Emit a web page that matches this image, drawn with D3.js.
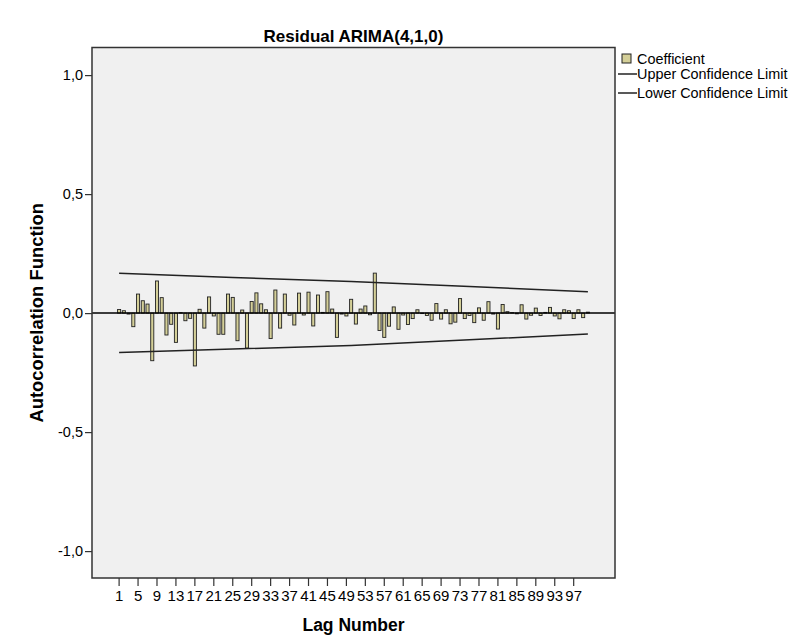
<!DOCTYPE html>
<html>
<head>
<meta charset="utf-8">
<script src="https://cdn.jsdelivr.net/npm/d3@7"></script>
<style>
  body { margin: 0; background: #ffffff; }
  svg { display: block; }
  text { font-family: "Liberation Sans", Arial, sans-serif; fill: #000; }
</style>
</head>
<body>
<svg id="chart" width="798" height="639"></svg>
<script>
// Residual ACF coefficients, lags 1..100
const acf = [
   0.015,  0.010, -0.004, -0.057,  0.080,  0.052,  0.038, -0.200,  0.135,  0.065,
  -0.092, -0.047, -0.123,  0.002, -0.032, -0.022, -0.222,  0.016, -0.063,  0.068,
  -0.012, -0.089, -0.089,  0.080,  0.066, -0.116,  0.013, -0.147,  0.049,  0.085,
   0.039,  0.014, -0.107,  0.097, -0.063,  0.080, -0.009, -0.050,  0.084, -0.008,
   0.088, -0.054,  0.076,  0.003,  0.090,  0.017, -0.102, -0.004, -0.012,  0.058,
  -0.046,  0.017,  0.030, -0.007,  0.168, -0.073, -0.102, -0.055,  0.026, -0.068,
  -0.008, -0.048, -0.023,  0.014, -0.002, -0.010, -0.030,  0.040, -0.025,  0.014,
  -0.045, -0.038,  0.061, -0.023, -0.010, -0.040,  0.022, -0.030,  0.048, -0.004,
  -0.067,  0.036,  0.006,  0.002, -0.003,  0.035, -0.025, -0.009,  0.021, -0.010,
   0.003,  0.024, -0.012, -0.024,  0.014,  0.010, -0.023,  0.014, -0.019,  0.004
];
const lags = acf.map((_, i) => i + 1);

// Confidence limits read at selected lags
const ciLags  = [1, 25, 50, 75, 100];
const ciUpper = [0.167, 0.150, 0.133, 0.112, 0.090];
const ciLower = [-0.165, -0.151, -0.136, -0.112, -0.088];

const lagTicks = [1, 5, 9, 13, 17, 21, 25, 29, 33, 37, 41, 45, 49, 53, 57, 61, 65, 69, 73, 77, 81, 85, 89, 93, 97];
const yTicks = [-1.0, -0.5, 0.0, 0.5, 1.0];

const titleText = "Residual ARIMA(4,1,0)";
const xTitle = "Lag Number";
const yTitle = "Autocorrelation Function";
const legendItems = ["Coefficient", "Upper Confidence Limit", "Lower Confidence Limit"];

const plot = { left: 92, right: 615, top: 47.5, bottom: 578 };
const barFill = "#d4cf98";
const ink = "#222";

const svg = d3.select("#chart");

const x = d3.scaleBand()
  .domain(lags)
  .range([plot.left, plot.right])
  .paddingInner(0.35)
  .paddingOuter(5.4);

const y = d3.scaleLinear()
  .domain([-1.113, 1.116])
  .range([plot.bottom, plot.top]);

const cx = d => x(d) + x.bandwidth() / 2;

// plot background
svg.append("rect")
  .attr("x", plot.left).attr("y", plot.top)
  .attr("width", plot.right - plot.left).attr("height", plot.bottom - plot.top)
  .attr("fill", "#f0f0f0");

// bars
svg.append("g").selectAll("rect")
  .data(lags)
  .join("rect")
  .attr("x", d => x(d))
  .attr("width", x.bandwidth())
  .attr("y", d => y(Math.max(0, acf[d - 1])))
  .attr("height", d => Math.abs(y(acf[d - 1]) - y(0)))
  .attr("fill", barFill)
  .attr("stroke", ink)
  .attr("stroke-width", 0.9);

// zero reference line
svg.append("line")
  .attr("x1", plot.left).attr("x2", plot.right)
  .attr("y1", y(0)).attr("y2", y(0))
  .attr("stroke", "#000").attr("stroke-width", 1.5);

// confidence limits
const ciLine = d3.line().x(d => cx(d[0])).y(d => y(d[1]));
[ciUpper, ciLower].forEach(vals => {
  svg.append("path")
    .attr("d", ciLine(ciLags.map((l, i) => [l, vals[i]])))
    .attr("fill", "none")
    .attr("stroke", ink)
    .attr("stroke-width", 1.5);
});

// frame
svg.append("rect")
  .attr("x", plot.left).attr("y", plot.top)
  .attr("width", plot.right - plot.left).attr("height", plot.bottom - plot.top)
  .attr("fill", "none").attr("stroke", "#333").attr("stroke-width", 1.5);

// axes
const fmt = v => d3.format(".1f")(v).replace(".", ",").replace("−", "-");

const yAxis = svg.append("g")
  .attr("transform", `translate(${plot.left},0)`)
  .call(d3.axisLeft(y).tickValues(yTicks).tickFormat(fmt).tickSize(7).tickPadding(2));
yAxis.select(".domain").remove();
yAxis.selectAll("line").attr("stroke", "#333").attr("stroke-width", 1.2);
yAxis.selectAll("text").attr("font-size", 14.5).attr("fill", "#222")
  .style("font-family", "'Liberation Sans', Arial, sans-serif");

const xAxis = svg.append("g")
  .attr("transform", `translate(0,${plot.bottom})`)
  .call(d3.axisBottom(x).tickValues(lagTicks).tickSize(8).tickPadding(4));
xAxis.select(".domain").remove();
xAxis.selectAll("line").attr("stroke", "#333").attr("stroke-width", 1.2);
xAxis.selectAll("text").attr("font-size", 15).attr("fill", "#222")
  .style("font-family", "'Liberation Sans', Arial, sans-serif");

// titles
const midX = (plot.left + plot.right) / 2;
svg.append("text")
  .attr("x", midX).attr("y", 42)
  .attr("text-anchor", "middle")
  .attr("font-size", 17).attr("font-weight", "bold")
  .text(titleText);

svg.append("text")
  .attr("x", midX).attr("y", 631)
  .attr("text-anchor", "middle")
  .attr("font-size", 17.5).attr("font-weight", "bold")
  .text(xTitle);

svg.append("text")
  .attr("transform", `translate(43,${(plot.top + plot.bottom) / 2}) rotate(-90)`)
  .attr("text-anchor", "middle")
  .attr("font-size", 18.4).attr("font-weight", "bold")
  .text(yTitle);

// legend
const lg = svg.append("g").attr("transform", "translate(618,52)");
lg.append("rect")
  .attr("x", 4).attr("y", 2).attr("width", 9).attr("height", 9)
  .attr("fill", barFill).attr("stroke", ink).attr("stroke-width", 1);
const rowY = [6.5, 22, 41];
[1, 2].forEach(i => {
  lg.append("line")
    .attr("x1", 0).attr("x2", 19)
    .attr("y1", rowY[i]).attr("y2", rowY[i])
    .attr("stroke", ink).attr("stroke-width", 1.5);
});
lg.selectAll("text.item")
  .data(legendItems)
  .join("text")
  .attr("class", "item")
  .attr("x", 19)
  .attr("y", (d, i) => rowY[i] + 5)
  .attr("font-size", 14.4)
  .text(d => d);
</script>
</body>
</html>
